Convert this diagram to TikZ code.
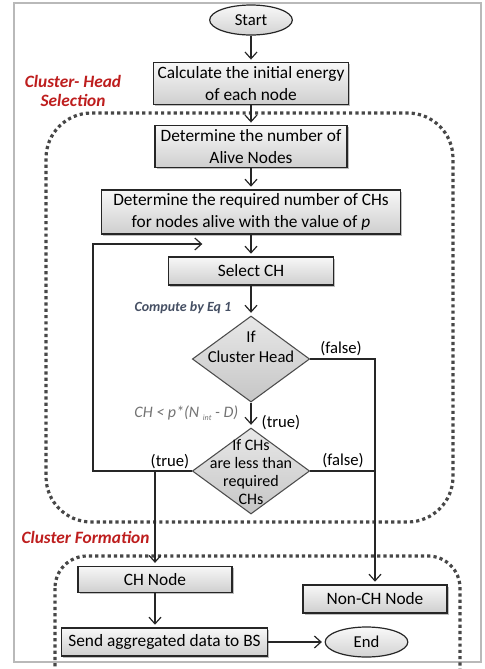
\documentclass[tikz,border=0pt]{standalone}
\usepackage{fontspec}
\setmainfont{Carlito}
\usetikzlibrary{shapes.geometric, arrows.meta, shadows}
\definecolor{rossoscuro}{RGB}{190,30,30}
\definecolor{grigioeq}{RGB}{70,80,100}
\tikzset{
  blocco/.style={rectangle, draw=black!85, line width=0.9pt, top color=gray!6, bottom color=gray!38,
    drop shadow={shadow xshift=1.2pt, shadow yshift=-1.2pt, opacity=0.5}, align=center, inner sep=1pt,
    font=\fontsize{13}{17}\selectfont},
  rombo/.style={diamond, draw=black!70, line width=0.8pt, top color=gray!18, bottom color=gray!45,
    inner sep=0pt, minimum width=88pt, minimum height=64.5pt},
  ovale/.style={ellipse, draw=black!85, line width=0.9pt, top color=gray!5, bottom color=gray!35,
    minimum width=62pt, minimum height=22.5pt, inner sep=0pt},
  regione/.style={draw=black!72, line width=2.4pt, dash pattern=on 2.4pt off 2.3pt},
  titolo/.style={text=rossoscuro, font=\fontsize{13}{14}\selectfont\bfseries\itshape, align=center},
  freccia/.style={->, line width=0.9pt, draw=black!85, shorten >=2pt},
  linea/.style={line width=0.9pt, draw=black!85}
}
\begin{document}
\begin{tikzpicture}[x=0.75pt, y=-0.75pt, >={Straight Barb[length=5pt,width=9pt]},
    font=\fontsize{12.5}{15}\selectfont]
	%		\draw [thin, help lines] (0,0) grid[step=20] (485,669);
	\clip (0,0) rectangle (485,669);
	\fill[white] (0,0) rectangle (485,669);
	\draw[gray!55, line width=1.2pt] (14,3) rectangle (481,662);
	%%% Regioni
	\draw[regione, rounded corners=34pt] (46,113) rectangle (453,522);
	\draw[regione, rounded corners=24pt] (55,556) rectangle (460,720);
	\node[titolo] (titsel) at (73,91) {Cluster- Head\\Selection};
	\node[titolo] (titform) at (85.5,537) {Cluster Formation};
	%%% Blocchi
	\node[ovale] (start) at (251,20) {Start};
	\node[blocco, minimum width=146pt, minimum height=31pt] (calc) at (251,83.5) {Calculate the initial energy\\of each node};
	\node[blocco, minimum width=144pt, minimum height=31pt] (alive) at (251,146.5) {Determine the number of\\Alive Nodes};
	\node[blocco, minimum width=224pt, minimum height=33pt] (required) at (251,212) {Determine the required number of CHs\\for nodes alive with the value of \textit{p}};
	\node[blocco, minimum width=124pt, minimum height=21pt] (select) at (251,271) {Select CH};
	%%% Rombi
	\node[rombo] (ifhead) at (251,359) {};
	\node[align=center, font=\fontsize{12.5}{14.5}\selectfont] (ifheadtxt) at (251,347) {If\\Cluster Head};
	\node[rombo] (ifless) at (251,471) {};
	\node[align=center, font=\fontsize{12}{13.5}\selectfont] (iflesstxt) at (251,472) {If CHs\\are less than\\required\\CHs};
	%%% Cluster formation
	\node[blocco, minimum width=115.5pt, minimum height=20pt] (chnode) at (155,579.5) {CH Node};
	\node[blocco, minimum width=108pt, minimum height=21pt] (nonch) at (375,599) {Non-CH Node};
	\node[blocco, minimum width=155pt, minimum height=21pt] (send) at (164.5,642) {Send aggregated data to BS};
	\node[ovale] (stop) at (366.5,642) {End};
	%%% Frecce
	\draw[freccia] (start) -- (calc);
	\draw[freccia] (calc) -- (alive);
	\draw[freccia] (alive) -- (required);
	\draw[freccia] (required) -- (select);
	\draw[freccia] (select) -- (ifhead);
	\draw[freccia] (ifhead) -- (ifless);
	\coordinate (angolo) at (93,244);
	\coordinate (rientro) at (205,244);
	\draw[freccia] (ifless.west) -| (angolo) -- (rientro);
	\draw[freccia] (chnode.north |- ifless.west) -- (chnode.north);
	\draw[freccia] (ifhead.east) -| (nonch.north);
	\draw[linea] (ifless.east) -- (ifless.east -| nonch.north);
	\draw[freccia] (chnode.south) -- (chnode.south |- send.north);
	\draw[freccia] (send) -- (stop);
	%%% Etichette
	\node[anchor=east, text=grigioeq, font=\fontsize{10.5}{12}\selectfont\bfseries\itshape] (eqlab) at (236,308) {Compute by Eq 1};
	\node[anchor=east, text=gray!90!black, font=\fontsize{12}{13}\selectfont\itshape] (condlab) at (243,413) {CH < p*(N \raisebox{-0.4ex}{\fontsize{6}{6}\selectfont int} - D)};
	\node (falsohead) at (341,349) {(false)};
	\node (verohead) at (281,423) {(true)};
	\node (veroless) at (170,462) {(true)};
	\node (falsoless) at (343,461) {(false)};
\end{tikzpicture}
\end{document}
